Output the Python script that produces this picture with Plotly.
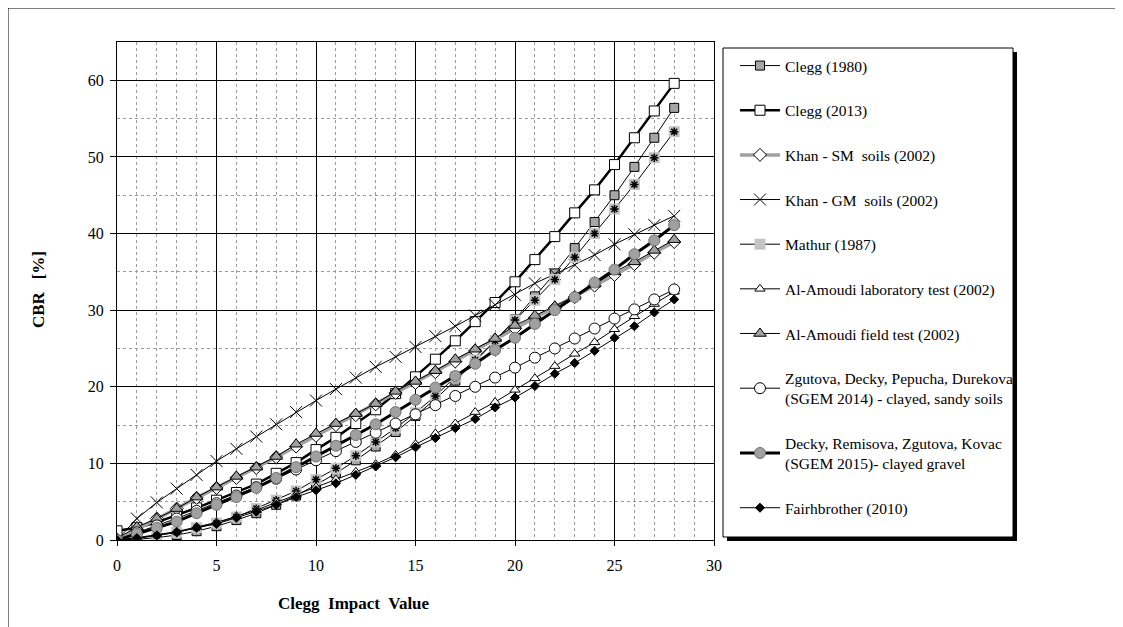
import plotly.graph_objects as go

civ = list(range(29))

clegg_1980 = [0, 0.1, 0.3, 0.65, 1.15, 1.8, 2.6, 3.5, 4.6, 5.8, 7.2, 8.7, 10.4, 12.2, 14.1,
              16.2, 18.4, 20.8, 23.3, 26.0, 28.8, 31.8, 34.8, 38.1, 41.5, 45.0, 48.7, 52.5, 56.4]
clegg_2013 = [1.2, 1.6, 2.3, 3.2, 4.2, 5.2, 6.2, 7.3, 8.7, 10.1, 11.8, 13.4, 15.2, 17.0, 19.1,
              21.3, 23.6, 26.0, 28.5, 31.0, 33.7, 36.6, 39.6, 42.7, 45.7, 49.0, 52.5, 56.0, 59.6]
khan_sm = [0, 1.4, 2.8, 4.1, 5.5, 6.8, 8.1, 9.4, 10.8, 12.2, 13.6, 15.0, 16.3, 17.7, 19.2,
           20.5, 21.9, 23.3, 24.7, 26.1, 27.6, 29.0, 30.3, 31.7, 33.2, 34.6, 36.0, 37.5, 38.9]
khan_gm = [0, 2.8, 4.9, 6.7, 8.5, 10.3, 11.9, 13.5, 15.1, 16.7, 18.2, 19.7, 21.2, 22.6, 23.9,
           25.2, 26.6, 27.9, 29.3, 30.7, 32.0, 33.5, 34.7, 35.9, 37.2, 38.6, 39.9, 41.1, 42.3]
mathur = [0, 0.2, 0.6, 1.0, 1.6, 2.2, 3.0, 4.1, 5.2, 6.4, 7.9, 9.35, 11.0, 12.8, 14.6,
          16.6, 18.8, 21.3, 23.5, 26.0, 28.7, 31.3, 34.0, 36.9, 40.0, 43.2, 46.4, 49.9, 53.3]
amoudi_lab = [0, 0.3, 0.7, 1.1, 1.7, 2.3, 3.1, 3.9, 4.9, 5.9, 6.9, 7.9, 8.9, 9.9, 11.1,
              12.5, 13.9, 15.2, 16.7, 18.0, 19.6, 21.1, 22.7, 24.3, 25.8, 27.5, 29.2, 30.8, 32.4]
amoudi_field = [0.2, 1.7, 2.8, 4.1, 5.6, 6.9, 8.3, 9.5, 10.9, 12.5, 13.9, 15.2, 16.5, 17.8, 19.4,
                20.7, 22.1, 23.6, 24.9, 26.3, 28.0, 29.3, 30.5, 31.8, 33.4, 35.0, 36.3, 37.8, 39.2]
zgutova_2014 = [0, 1.0, 1.9, 2.8, 3.8, 4.8, 5.8, 6.9, 8.0, 9.2, 10.4, 11.6, 12.8, 14.0, 15.2,
                16.4, 17.6, 18.8, 20.0, 21.2, 22.5, 23.8, 25.0, 26.3, 27.6, 28.9, 30.1, 31.4, 32.7]
decky_2015 = [0, 0.8, 1.6, 2.4, 3.5, 4.6, 5.6, 6.8, 8.1, 9.5, 10.9, 12.3, 13.7, 15.1, 16.7,
              18.3, 19.9, 21.4, 23.0, 24.8, 26.4, 28.2, 30.0, 31.7, 33.6, 35.3, 37.3, 39.1, 41.1]
fairhbrother = [0, 0.25, 0.6, 1.0, 1.6, 2.1, 2.9, 3.7, 4.6, 5.6, 6.5, 7.4, 8.5, 9.6, 10.8,
                12.1, 13.3, 14.6, 15.8, 17.3, 18.6, 20.1, 21.7, 23.1, 24.7, 26.4, 27.9, 29.7, 31.4]

names = [
    "Clegg (1980)",
    "Clegg (2013)",
    "Khan - SM  soils (2002)",
    "Khan - GM  soils (2002)",
    "Mathur (1987)",
    "Al-Amoudi laboratory test (2002)",
    "Al-Amoudi field test (2002)",
    "Zgutova, Decky, Pepucha, Durekova<br>(SGEM 2014) - clayed, sandy soils",
    "Decky, Remisova, Zgutova, Kovac<br>(SGEM 2015)- clayed gravel",
    "Fairhbrother (2010)",
]

FONT = "Liberation Serif"

fig = go.Figure()

def add(name, y, lw, lc, sym, size, fill, mlc="black", mlw=1):
    fig.add_trace(go.Scatter(
        x=civ, y=y, name=name, mode="lines+markers",
        line=dict(color=lc, width=lw),
        marker=dict(symbol=sym, size=size, color=fill, line=dict(color=mlc, width=mlw)),
        legendgroup=name,
    ))

add(names[0], clegg_1980, 1, "black", "square", 9, "#a6a6a6")
add(names[1], clegg_2013, 2.5, "black", "square", 10, "white")
add(names[2], khan_sm, 3.5, "#a0a0a0", "diamond", 10, "white")
add(names[3], khan_gm, 1, "black", "x-thin-open", 12, "black", mlw=1)
add(names[4], mathur, 1, "black", "square", 11, "#c4c4c4", mlc="#c4c4c4", mlw=0)
fig.add_trace(go.Scatter(
    x=civ, y=mathur, mode="markers", showlegend=False, legendgroup=names[4],
    marker=dict(symbol="asterisk-open", size=7, color="black", line=dict(color="black", width=1.5)),
    hoverinfo="skip"))
add(names[5], amoudi_lab, 1, "black", "triangle-up", 9, "white")
add(names[6], amoudi_field, 1, "black", "triangle-up", 11, "#a0a0a0")
add(names[7], zgutova_2014, 1, "black", "circle", 11, "white")
add(names[8], decky_2015, 3, "black", "circle", 11, "#a0a0a0", mlc="#707070")
add(names[9], fairhbrother, 1, "black", "diamond", 7, "black")

# geometry in screen px (page has an 8px body margin)
OFF = 8
W, H = 1123 - OFF, 627 - OFF
L, R, T, B = 117, 714, 42, 540
pw, ph = R - L, B - T

def px(x):
    return (x - L) / pw

def py(y):
    return (B - y) / ph

fig.update_layout(
    width=W, height=H,
    margin=dict(l=L - OFF, r=W - (R - OFF), t=T - OFF, b=H - (B - OFF), pad=0, autoexpand=False),
    paper_bgcolor="white", plot_bgcolor="white",
    font=dict(family=FONT, size=16, color="black"),
    showlegend=True,
    legend=dict(
        x=px(735), y=py(49), xanchor="left", yanchor="top",
        bgcolor="rgba(0,0,0,0)", borderwidth=0,
        font=dict(family=FONT, size=15.5, color="black"),
        tracegroupgap=21.5, itemwidth=40,
    ),
    xaxis=dict(
        range=[0, 30], dtick=5, tick0=0,
        showgrid=True, gridcolor="black", gridwidth=1,
        minor=dict(dtick=1, showgrid=True, gridcolor="#9a9a9a", griddash="dot", gridwidth=1),
        showline=True, linecolor="black", linewidth=1, mirror=True,
        ticks="outside", ticklen=5, tickcolor="black",
        ticklabelstandoff=6,
        zeroline=False,
        tickfont=dict(family=FONT, size=16),
    ),
    yaxis=dict(
        range=[0, 65], dtick=10, tick0=0,
        showgrid=True, gridcolor="black", gridwidth=1,
        minor=dict(dtick=5, showgrid=True, gridcolor="#9a9a9a", griddash="dot", gridwidth=1),
        showline=True, linecolor="black", linewidth=1, mirror=True,
        ticks="outside", ticklen=6, tickcolor="black",
        ticklabelstandoff=3,
        zeroline=False,
        tickfont=dict(family=FONT, size=16),
    ),
    annotations=[
        dict(text="<b>Clegg  Impact  Value</b>", xref="paper", yref="paper",
             x=px(354), y=py(603), xanchor="center", yanchor="middle",
             showarrow=False, font=dict(family=FONT, size=17)),
        dict(text="<b>CBR   [%]</b>", xref="paper", yref="paper", textangle=-90,
             x=px(38), y=py(290), xanchor="center", yanchor="middle",
             showarrow=False, font=dict(family=FONT, size=17)),
    ],
    shapes=[
        dict(type="rect", xref="paper", yref="paper",
             x0=px(8), y0=py(8), x1=px(1116), y1=py(640),
             line=dict(color="black", width=1), fillcolor="rgba(0,0,0,0)", layer="below"),
        dict(type="rect", xref="paper", yref="paper",
             x0=px(727), y0=py(52), x1=px(1017), y1=py(541),
             line=dict(color="black", width=0), fillcolor="black", layer="above"),
        dict(type="rect", xref="paper", yref="paper",
             x0=px(723), y0=py(48), x1=px(1013), y1=py(537),
             line=dict(color="black", width=1), fillcolor="white", layer="above"),
    ],
)

fig.write_html("out.html")
